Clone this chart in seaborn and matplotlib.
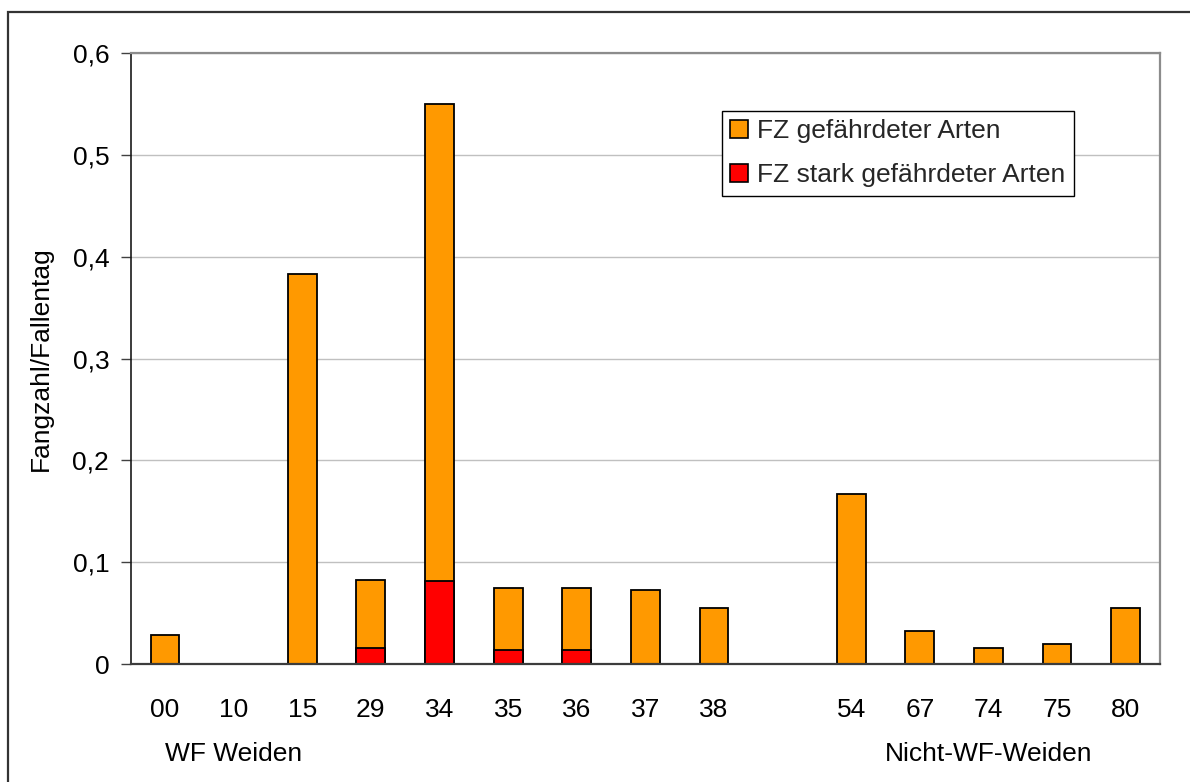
import numpy as np
import pandas as pd
import matplotlib
matplotlib.use("Agg")
import matplotlib.pyplot as plt
from matplotlib.patches import Rectangle, Patch
from matplotlib.ticker import FuncFormatter
import seaborn as sns

# ---- data ----
sites = ["00", "10", "15", "29", "34", "35", "36", "37", "38", "54", "67", "74", "75", "80"]
total_fz = [0.029, 0.0, 0.383, 0.083, 0.55, 0.075, 0.075, 0.073, 0.055, 0.167, 0.033, 0.016, 0.020, 0.055]
stark_fz = [0.0, 0.0, 0.0, 0.016, 0.082, 0.014, 0.014, 0.0, 0.0, 0.0, 0.0, 0.0, 0.0, 0.0]
order = ["00", "10", "15", "29", "34", "35", "36", "37", "38", " ", "54", "67", "74", "75", "80"]
group_labels = ["WF Weiden", "Nicht-WF-Weiden"]
group_centers = ["10", "74"]
y_ticks = [0.0, 0.1, 0.2, 0.3, 0.4, 0.5, 0.6]
legend_labels = ["FZ gefährdeter Arten", "FZ stark gefährdeter Arten"]

ORANGE = "#FF9900"
RED = "#FF0000"

sns.set_style("white")
plt.rcParams["font.family"] = ["Liberation Sans", "DejaVu Sans"]

df = pd.DataFrame({"site": sites, "total": total_fz, "stark": stark_fz})

fig = plt.figure(figsize=(11.9, 7.82), dpi=100)
ax = fig.add_axes([130.7 / 1190, 1 - 664.3 / 782, (1160 - 130.7) / 1190, (664.3 - 52.7) / 782])

sns.barplot(data=df[df["total"] > 0], x="site", y="total", order=order, color=ORANGE,
            saturation=1, edgecolor="black", linewidth=1.3, width=0.42, ax=ax)
sns.barplot(data=df[df["stark"] > 0], x="site", y="stark", order=order, color=RED,
            saturation=1, edgecolor="black", linewidth=1.3, width=0.42, ax=ax)

ax.set_xlim(-0.5, len(order) - 0.5)
ax.set_ylim(0, 0.6)
ax.set_yticks(y_ticks)
ax.yaxis.set_major_formatter(FuncFormatter(lambda v, p: "0" if abs(v) < 1e-9 else f"{v:.1f}".replace(".", ",")))
ax.set_xticks(range(len(order)))
ax.set_xticklabels(order)
ax.set_axisbelow(True)
ax.grid(axis="y", color="#c0c0c0", linewidth=1.0)
ax.grid(axis="x", visible=False)

ax.tick_params(axis="y", which="major", left=True, length=7.5, width=1.0, color="#404040",
               labelsize=19, pad=8, labelcolor="black")
ax.tick_params(axis="x", which="major", bottom=False, length=0, labelsize=19, pad=24, labelcolor="black")

ax.set_xlabel("")
ax.set_ylabel("Fangzahl/Fallentag", fontsize=19, labelpad=14, color="black")

for side in ["top", "right"]:
    ax.spines[side].set_visible(True)
    ax.spines[side].set_color("#8c8c8c")
    ax.spines[side].set_linewidth(1.6)
ax.spines["left"].set_color("#1a1a1a")
ax.spines["left"].set_linewidth(1.2)
ax.spines["bottom"].set_color("#3c3c3c")
ax.spines["bottom"].set_linewidth(1.6)

# group labels below categories
trans = ax.get_xaxis_transform()
for lab, c in zip(group_labels, group_centers):
    ax.text(order.index(c), -0.146, lab, transform=trans, ha="center", va="center",
            fontsize=19, color="black")

# legend
handles = [Patch(facecolor=ORANGE, edgecolor="black", linewidth=1.2),
           Patch(facecolor=RED, edgecolor="black", linewidth=1.2)]
leg = fig.legend(handles, legend_labels, loc="upper left", bbox_to_anchor=(722 / 1190, 1 - 111 / 782),
                 fontsize=19, frameon=True, fancybox=False, framealpha=1, edgecolor="black",
                 handlelength=0.65, handleheight=0.65, handletextpad=0.35, borderpad=0.32,
                 labelspacing=0.75, borderaxespad=0)
leg.get_frame().set_linewidth(1.0)

# outer chart border (top and left visible)
fig.patches.append(Rectangle((8 / 1190, -0.2), 1.2, 1.2 - 12 / 782, transform=fig.transFigure,
                             fill=False, edgecolor="#333333", linewidth=1.6, clip_on=False))

fig.savefig("out.png", dpi=100)
